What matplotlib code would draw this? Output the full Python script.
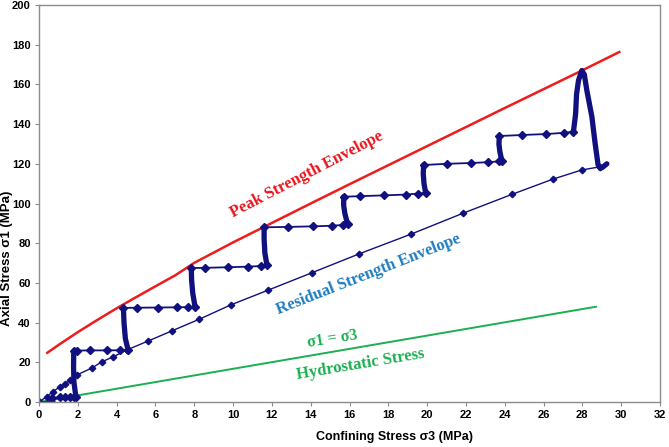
import matplotlib
matplotlib.use('Agg')
import matplotlib.pyplot as plt

# peak strength envelope (red)
peak_x = [0.43, 1, 2, 3, 4, 5, 6, 7, 8, 10, 12, 14, 16, 18, 20, 22, 24, 26, 28, 29.9]
peak_y = [24.8, 28.7, 35.2, 41.3, 47.2, 52.8, 58.3, 63.7, 70.1, 80.4, 90.2, 100, 109.7,
          119.3, 128.9, 138.5, 148.1, 157.6, 167.1, 176.3]

# hydrostatic line (green)
hyd_x = [0, 28.7]
hyd_y = [0, 48]

# residual strength envelope (navy, diamonds)
res_x = [0, 0.40, 0.72, 1.08, 1.34, 1.60, 1.94, 2.72, 3.23, 3.81, 4.52, 5.62, 6.84, 8.26,
         9.88, 11.82, 14.06, 16.49, 19.18, 21.85, 24.37, 26.49, 27.97, 28.92]
res_y = [0, 2.7, 5.2, 7.7, 9, 11, 13.6, 17.1, 20.2, 22.7, 26.2, 30.7, 35.8, 41.7,
         48.9, 56.4, 65.1, 74.6, 84.6, 95.1, 104.6, 112.3, 116.9, 118.5]

# loading path: flat stages (with markers)
flat_x = [
    [0, 0.6, 0.65, 1.08, 1.34, 1.6, 1.8, 1.9],
    [1.8, 1.95, 2.63, 3.5, 4.18, 4.59],
    [4.35, 5.04, 6.13, 7.10, 7.68, 8.04],
    [7.85, 8.56, 9.76, 10.79, 11.43, 11.75],
    [11.6, 12.84, 14.12, 15.1, 15.67, 15.9],
    [15.7, 16.55, 17.78, 18.92, 19.54, 19.92],
    [19.82, 21.02, 22.25, 23.13, 23.68, 23.85],
    [23.72, 24.88, 26.13, 27.06, 27.54],
]
flat_y = [
    [0, 0, 1.9, 2.4, 2.4, 2.4, 2.6, 2.6],
    [25.8, 25.9, 26, 26, 26.1, 26.2],
    [47.4, 47.5, 47.6, 47.7, 47.8, 48.0],
    [67.5, 67.6, 67.9, 68.2, 68.5, 68.8],
    [88, 88.2, 88.5, 88.8, 89.2, 89.6],
    [103.4, 103.7, 104.1, 104.5, 105, 105.4],
    [119.4, 120.0, 120.4, 120.8, 121.2, 121.6],
    [134, 134.5, 135, 135.6, 136.2],
]

# loading path: axial loading stages (dense points -> thick)
ramp_x = [
    [1.9, 1.8, 1.78, 1.79, 1.8],
    [4.59, 4.45, 4.38, 4.35],
    [8.04, 7.92, 7.86, 7.85],
    [11.75, 11.64, 11.6, 11.6],
    [15.9, 15.76, 15.7, 15.7],
    [19.92, 19.84, 19.8, 19.82],
    [23.85, 23.75, 23.7, 23.72],
    [27.54, 27.65, 27.7, 27.8, 27.97, 28.1, 28.23, 28.49, 28.66, 28.81, 28.92, 29.05, 29.26],
]
ramp_y = [
    [2.6, 10, 18, 24, 25.8],
    [26.2, 32, 40, 47.4],
    [48, 55, 62, 67.5],
    [68.8, 75, 82, 88],
    [89.6, 95, 99, 103.4],
    [105.4, 110, 115, 119.4],
    [121.6, 126, 130, 134],
    [136.2, 145, 155, 162, 167, 165, 157, 143.7, 130, 119.4, 117.7, 118.3, 120],
]

navy = '#10107e'

fig = plt.figure(figsize=(6.69, 4.47), dpi=100)
ax = fig.add_axes([39 / 669, 1 - 402 / 447, 621 / 669, 397 / 447])

ax.plot(peak_x, peak_y, color='#ee1c1c', lw=1.8)
ax.plot(hyd_x, hyd_y, color='#1aaf50', lw=1.4)
ax.plot(res_x, res_y, color=navy, lw=1, marker='D', ms=3.3)

for xs, ys in zip(ramp_x, ramp_y):
    ax.plot(xs, ys, color=navy, lw=3.8, solid_capstyle='round', solid_joinstyle='round')
for xs, ys in zip(flat_x, flat_y):
    ax.plot(xs, ys, color=navy, lw=1.3, marker='D', ms=3.8)

ax.text(13.8, 114.4, 'Peak Strength Envelope', color='#e8141c', rotation=27.5,
        ha='center', va='center', rotation_mode='anchor', fontsize=12,
        fontweight='bold', family='Liberation Serif')
ax.text(16.98, 64.0, 'Residual Strength Envelope', color='#1f7cc0', rotation=21.5,
        ha='center', va='center', rotation_mode='anchor', fontsize=12,
        fontweight='bold', family='Liberation Serif')
ax.text(15.13, 31.7, 'σ1 = σ3', color='#1aaf50', rotation=9,
        ha='center', va='center', rotation_mode='anchor', fontsize=11.5,
        fontweight='bold', family='Liberation Serif')
ax.text(16.55, 19.1, 'Hydrostatic Stress', color='#1aaf50', rotation=9.5,
        ha='center', va='center', rotation_mode='anchor', fontsize=12,
        fontweight='bold', family='Liberation Serif')

ax.set_xlim(0, 32)
ax.set_ylim(0, 200)
ax.set_xticks(range(0, 33, 2))
ax.set_yticks(range(0, 201, 20))

for s in ax.spines.values():
    s.set_color('#8c8c8c')
    s.set_linewidth(1)
ax.tick_params(direction='out', length=3, color='#8c8c8c', labelsize=8, pad=3)
for lab in ax.get_xticklabels() + ax.get_yticklabels():
    lab.set_fontweight('bold')
    lab.set_family('Liberation Sans')

ax.set_xlabel('Confining Stress σ3 (MPa)', fontsize=9, fontweight='bold', family='Liberation Sans')
ax.set_ylabel('Axial Stress σ1 (MPa)', fontsize=9.5, fontweight='bold', family='Liberation Sans')
ax.xaxis.set_label_coords((394 - 39) / 621, -0.072)
ax.yaxis.set_label_coords((13 - 39) / 621, (402 - 258) / 397)

fig.savefig('out.png', dpi=100)
